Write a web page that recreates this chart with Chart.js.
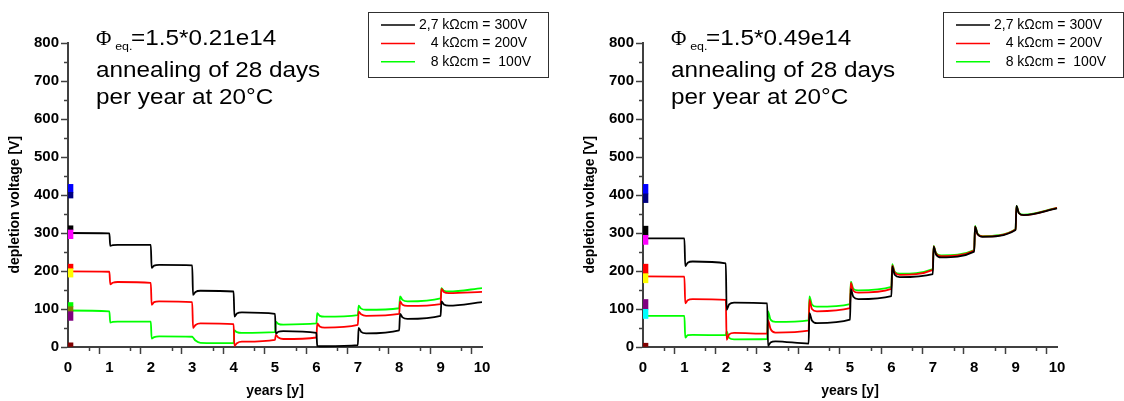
<!DOCTYPE html>
<html>
<head>
<meta charset="utf-8">
<script src="https://cdn.jsdelivr.net/npm/chart.js@4.4.1/dist/chart.umd.min.js"></script>
<style>
  html, body { margin: 0; padding: 0; background: #fff; }
  #wrap { position: relative; width: 1124px; height: 401px; overflow: hidden; }
  #c1 { position: absolute; left: 0; top: 0; }
  #c2 { position: absolute; left: 575px; top: 0; }
</style>
</head>
<body>
<div id="wrap">
  <canvas id="c1" width="575" height="401"></canvas>
  <canvas id="c2" width="549" height="401"></canvas>
</div>
<script>
// ---- data ----
// time knots in years: each annealing year k gives the value before the step,
// right after it, and two points of the relaxation that follows
const years = [0,
  1, 1.02, 1.08, 1.2,
  2, 2.02, 2.08, 2.2,
  3, 3.02, 3.08, 3.2,
  4, 4.02, 4.08, 4.2,
  5, 5.02, 5.08, 5.2,
  6, 6.02, 6.08, 6.2,
  7, 7.02, 7.08, 7.2,
  8, 8.02, 8.08, 8.2,
  9, 9.02, 9.08, 9.2,
  10];

const seriesLabels = ['2,7 k\u03A9cm = 300V', '   4 k\u03A9cm = 200V', '   8 k\u03A9cm =  100V'];

// fluence 1.5*0.21e14
const lowBlack = [300, 299,266,268,269, 269,208,214,216, 215,137,145,148, 146,80,88,91, 87,35,40,42, 37,3,2,2, 5,50,40,36, 44,87,78,74, 82,120,112,109, 118];
const lowRed   = [199, 198,165,169,171, 169,111,118,120, 118,50,58,62, 60,3,10,14, 19,32,25,21, 25,62,54,51, 58,93,86,82, 87,120,111,108, 113,153,145,142, 145];
const lowGreen = [96, 94,64,66,67, 67,22,26,28, 27,25,17,11, 10,44,39,37, 39,67,61,59, 62,89,82,80, 84,109,101,98, 102,133,124,120, 128,155,148,146, 155];

// fluence 1.5*0.49e14
const highBlack = [286, 286,213,222,225, 220,98,112,117, 115,3,12,15, 9,89,70,63, 72,152,132,126, 134,212,190,184, 192,264,243,236, 251,317,297,290, 308,371,352,347, 365];
const highRed   = [186, 185,115,123,126, 124,19,33,37, 35,70,48,38, 43,124,100,94, 102,169,148,143, 153,214,196,190, 203,265,245,239, 254,317,297,291, 309,370,352,347, 366];
const highGreen = [82, 82,25,31,32, 31,41,24,20, 21,94,72,66, 70,133,112,106, 113,172,153,149, 158,218,198,193, 205,266,247,241, 255,319,299,292, 310,371,353,348, 366];

// reference levels marked at the start of the time axis
const markerYear = 0.06;
const lowMarkFrom = [407, 392, 308, 285, 206, 184, 106, 93, 70, 0];
const lowMarkTo   = [428, 407, 319, 308, 218, 206, 117, 106, 93, 11];
const highMarkFrom = [403, 380, 294, 270, 193, 169, 99, 75, 0];
const highMarkTo   = [428, 403, 318, 294, 218, 193, 125, 99, 10];

const fluenceLow = '1.5*0.21e14';
const fluenceHigh = '1.5*0.49e14';
const noteLines = ['annealing of 28 days', 'per year at 20\u00B0C'];

// ---- styles ----
const seriesColors = ['#000000', '#ff0000', '#00ff00'];
const lowMarkColors = ['#0000ff', '#000080', '#000000', '#ff00ff', '#ff0000', '#ffff00', '#00ff00', '#808000', '#800080', '#800000'];
const highMarkColors = ['#0000ff', '#000080', '#000000', '#ff00ff', '#ff0000', '#ffff00', '#800080', '#00ffff', '#800000'];
const AXIS = '#404040';
const FONT = "'Liberation Sans', Arial, Helvetica, sans-serif";
const SERIF = "'Liberation Serif', 'Times New Roman', serif";

// short ticks between the labelled ones
const minorTickPlugin = {
  id: 'minorTicks',
  afterDraw(chart) {
    const ctx = chart.ctx;
    const xs = chart.scales.x, ys = chart.scales.y;
    ctx.save();
    ctx.strokeStyle = AXIS;
    ctx.lineWidth = 1.5;
    xs.ticks.forEach(t => {
      if (Math.abs(t.value % 1) > 1e-6) {
        const px = Math.round(xs.getPixelForValue(t.value)) + 0.5;
        ctx.beginPath(); ctx.moveTo(px, xs.top); ctx.lineTo(px, xs.top + 4); ctx.stroke();
      }
    });
    ys.ticks.forEach(t => {
      if (t.value % 100 !== 0) {
        const py = Math.round(ys.getPixelForValue(t.value)) + 0.5;
        ctx.beginPath(); ctx.moveTo(ys.right, py); ctx.lineTo(ys.right - 4, py); ctx.stroke();
      }
    });
    ctx.restore();
  }
};

// fluence and annealing note in the upper left of the plot
const notePlugin = {
  id: 'note',
  afterDraw(chart, args, opts) {
    const { ctx, chartArea } = chart;
    const x = chartArea.left + 28;
    ctx.save();
    ctx.fillStyle = '#000';
    ctx.textAlign = 'left';
    ctx.textBaseline = 'alphabetic';
    ctx.font = '21px ' + SERIF;
    ctx.fillText('\u03A6', x, 45);
    ctx.translate(x, 0);
    ctx.scale(1.13, 1);
    ctx.font = '11px ' + FONT;
    ctx.fillText('eq.', 17, 50);
    ctx.font = '21.5px ' + FONT;
    ctx.fillText('=' + opts.fluence, 31, 45);
    opts.lines.forEach((t, i) => ctx.fillText(t, 0, 77 + i * 27));
    ctx.restore();
  }
};

// framed legend in the top right corner
const legendBoxPlugin = {
  id: 'legendBox',
  afterDraw(chart) {
    const { ctx, chartArea } = chart;
    const bx = chartArea.left + 300, by = 12, bw = 180, bh = 65;
    ctx.save();
    ctx.strokeStyle = '#303030';
    ctx.lineWidth = 1;
    ctx.strokeRect(bx + 0.5, by + 0.5, bw, bh);
    ctx.font = '14px ' + FONT;
    ctx.textAlign = 'left';
    ctx.textBaseline = 'middle';
    chart.data.datasets.filter(d => d.type === 'line').forEach((d, i) => {
      const y = by + 13 + i * 18.4;
      ctx.strokeStyle = d.borderColor;
      ctx.lineWidth = 1.5;
      ctx.beginPath(); ctx.moveTo(bx + 13, y); ctx.lineTo(bx + 47, y); ctx.stroke();
      ctx.fillStyle = '#000';
      ctx.fillText(d.label, bx + 51, y);
    });
    ctx.restore();
  }
};

function lineSet(label, color, vals) {
  return {
    type: 'line', label,
    data: years.map((x, i) => ({ x, y: vals[i] })),
    borderColor: color, backgroundColor: color,
    borderWidth: 1.8, pointRadius: 0, fill: false,
    cubicInterpolationMode: 'monotone', clip: false, order: 2
  };
}

function markerSet(from, to, colors) {
  return {
    type: 'bar', label: 'levels',
    data: from.map((v, i) => ({ x: markerYear, y: [v, to[i]] })),
    backgroundColor: colors, borderWidth: 0,
    barThickness: 5, grouped: false, order: 0
  };
}

function tickFont() { return { family: FONT, size: 15, weight: 'bold' }; }

function makeChart(id, curves, mFrom, mTo, mColors, fluence, padRight) {
  return new Chart(document.getElementById(id), {
    type: 'line',
    data: {
      datasets: [
        markerSet(mFrom, mTo, mColors),
        lineSet(seriesLabels[0], seriesColors[0], curves[0]),
        lineSet(seriesLabels[1], seriesColors[1], curves[1]),
        lineSet(seriesLabels[2], seriesColors[2], curves[2])
      ]
    },
    options: {
      responsive: false,
      animation: false,
      events: [],
      layout: { padding: { left: 0, top: 43, right: padRight, bottom: 0 } },
      plugins: {
        legend: { display: false },
        tooltip: { enabled: false },
        note: { fluence, lines: noteLines }
      },
      scales: {
        x: {
          type: 'linear', min: 0, max: 10, offset: false,
          ticks: {
            stepSize: 0.5, autoSkip: false, maxRotation: 0, padding: 5,
            color: '#000', font: tickFont(),
            callback: v => (Math.abs(v % 1) < 1e-6 ? String(v) : '')
          },
          grid: {
            drawOnChartArea: false, drawTicks: true, tickLength: 7, tickWidth: 1.5,
            tickColor: c => (c.tick && Math.abs(c.tick.value % 1) < 1e-6) ? AXIS : 'rgba(0,0,0,0)',
            color: AXIS
          },
          border: { display: true, color: AXIS, width: 2 },
          title: {
            display: true, text: 'years [y]', color: '#000',
            font: { family: FONT, size: 14, weight: 'bold' },
            padding: { top: 0, bottom: 1 }
          },
          afterFit: s => { s.height = 54; }
        },
        y: {
          type: 'linear', min: 0, max: 800,
          ticks: {
            stepSize: 50, autoSkip: false, padding: 2,
            color: '#000', font: tickFont(),
            callback: v => (v % 100 === 0 ? String(v) : '')
          },
          grid: {
            drawOnChartArea: false, drawTicks: true, tickLength: 7, tickWidth: 1.5,
            tickColor: c => (c.tick && c.tick.value % 100 === 0) ? AXIS : 'rgba(0,0,0,0)',
            color: AXIS
          },
          border: { display: true, color: AXIS, width: 2 },
          title: {
            display: true, text: 'depletion voltage [V]' + '\u00A0'.repeat(5), color: '#000',
            font: { family: FONT, size: 14, weight: 'bold' },
            padding: { top: 7, bottom: 0 }
          },
          afterFit: s => { s.width = 68; }
        }
      }
    },
    plugins: [minorTickPlugin, notePlugin, legendBoxPlugin]
  });
}

makeChart('c1', [lowBlack, lowRed, lowGreen], lowMarkFrom, lowMarkTo, lowMarkColors, fluenceLow, 93);
makeChart('c2', [highBlack, highRed, highGreen], highMarkFrom, highMarkTo, highMarkColors, fluenceHigh, 67);
</script>
</body>
</html>
